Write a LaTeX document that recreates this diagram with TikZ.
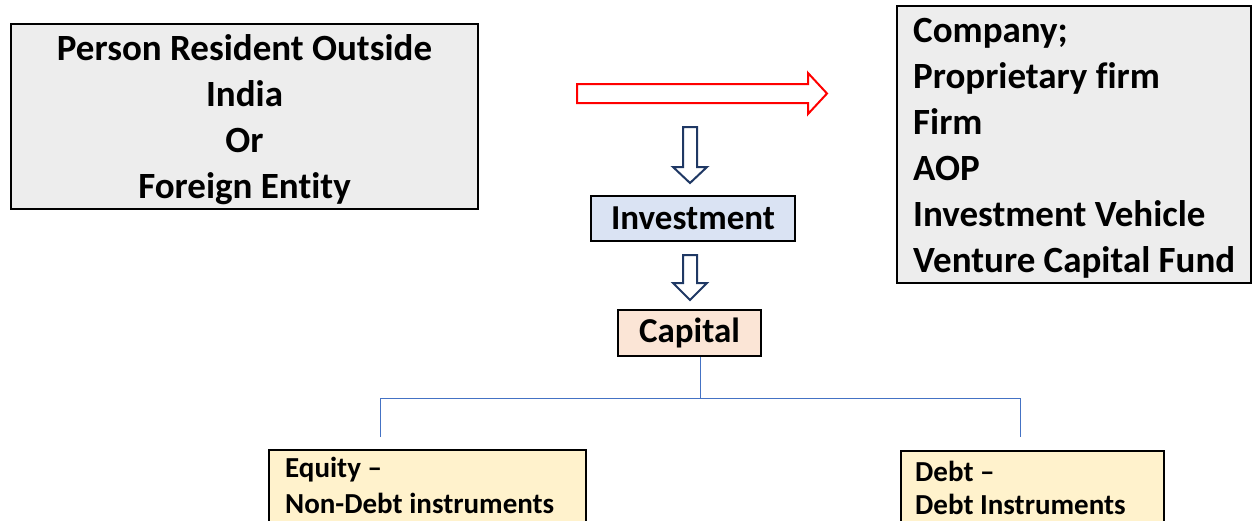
\documentclass[tikz,border=0pt]{standalone}
\usepackage{fontspec}
\setmainfont{Carlito}[Ligatures={NoCommon}]
\definecolor{boxgray}{HTML}{EDEDED}
\definecolor{invblue}{HTML}{DAE3F3}
\definecolor{capfill}{HTML}{FBE5D6}
\definecolor{lowfill}{HTML}{FFF2CC}
\definecolor{navy}{HTML}{1F3864}
\definecolor{linkblue}{HTML}{4472C4}
\tikzset{
  box/.style={draw=black, line width=2pt, rectangle, anchor=north west, inner sep=0pt},
  bigtext/.style={font=\fontsize{37}{46}\selectfont\bfseries, inner sep=0pt},
  midtext/.style={font=\fontsize{35}{46}\selectfont\bfseries},
  lowtext/.style={font=\fontsize{29}{33}\selectfont\bfseries, inner sep=0pt, anchor=west},
  blockdown/.style={draw=navy, line width=2pt, fill=white, line join=miter},
  blockright/.style={draw=red, line width=2pt, fill=white, line join=miter},
  link/.style={draw=linkblue, line width=1pt}
}
\begin{document}
\begin{tikzpicture}[x=1pt, y=-1pt]
\useasboundingbox (0,0) rectangle (1252,520);
\clip (0,0) rectangle (1252,520);

% source box
\node[box, fill=boxgray, minimum width=467pt, minimum height=185pt] (src) at (10,23) {};
\node[bigtext, align=center] (srctext) at ([yshift=-3pt]src.center)
  {Person Resident Outside\\India\\Or\\Foreign Entity};

% target box
\node[box, fill=boxgray, minimum width=354pt, minimum height=277pt] (tgt) at (896,5) {};
\node[bigtext, align=flush left, anchor=west] (tgttext) at ([xshift=17pt, yshift=-3.5pt]tgt.west)
  {Company;\\Proprietary firm\\Firm\\AOP\\Investment Vehicle\\Venture Capital Fund};

% investment and capital
\node[box, fill=invblue, midtext, minimum width=204pt, minimum height=45pt] (inv) at (590,195) {Investment};
\node[box, fill=capfill, midtext, minimum width=143pt, minimum height=46pt] (cap) at (617,309) {Capital};

% lower boxes
\node[box, fill=lowfill, minimum width=317pt, minimum height=100pt] (eq) at (268,449) {};
\node[lowtext] (eq1) at (285,470) {Equity –};
\node[lowtext] (eq2) at (285,503) {Non-Debt instruments};
\node[box, fill=lowfill, minimum width=263pt, minimum height=100pt] (db) at (900,450) {};
\node[lowtext] (db1) at (915,471) {Debt –};
\node[lowtext] (db2) at (915,504) {Debt Instruments};

% red block arrow
\coordinate (ra) at (577,93.5);
\draw[blockright] (ra) ++(0,-9.5) -- ++(231,0) -- ++(0,-11) -- ++(19,20.5) -- ++(-19,20.5) -- ++(0,-11) -- ++(-231,0) -- cycle;

% down block arrows
\coordinate (da1) at (690,127);
\draw[blockdown] (da1) ++(-7,0) -- ++(14,0) -- ++(0,40) -- ++(10,0) -- ++(-17,16) -- ++(-17,-16) -- ++(10,0) -- cycle;
\coordinate (da2) at (690,255);
\draw[blockdown] (da2) ++(-7,0) -- ++(14,0) -- ++(0,28) -- ++(10,0) -- ++(-17,17) -- ++(-17,-17) -- ++(10,0) -- cycle;

% tree connector
\coordinate (split) at (700,398);
\coordinate (eqend) at (380,437);
\coordinate (dbend) at (1020,437);
\draw[link] (cap.south -| split) -- (split);
\draw[link] (eqend) -- (eqend |- split) -- (dbend |- split) -- (dbend);
\end{tikzpicture}
\end{document}
